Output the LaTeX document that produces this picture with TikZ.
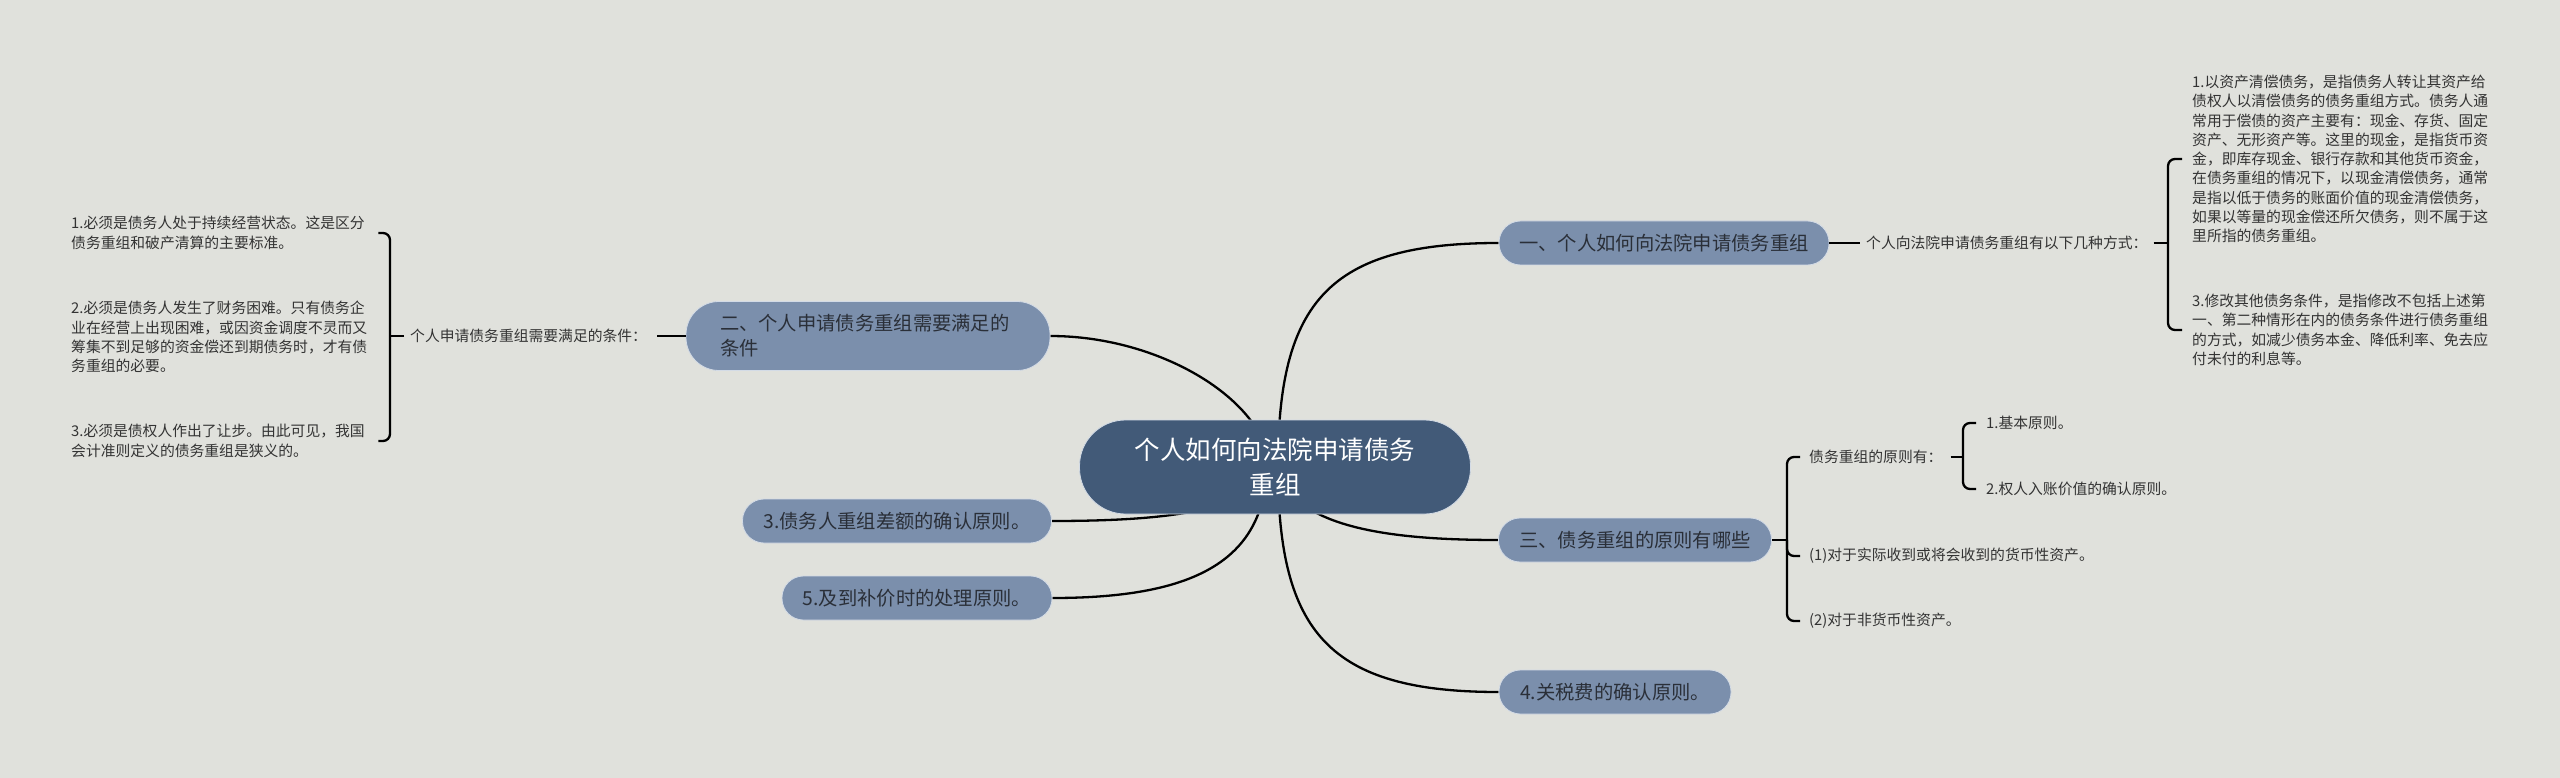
\documentclass[tikz,border=0pt]{standalone}
\usepackage{fontspec}
\setmainfont{Noto Sans CJK SC}
\usepackage{tikz}
\usetikzlibrary{positioning,calc}

\definecolor{paper}{HTML}{E0E1DC}
\definecolor{rootfill}{HTML}{425A78}
\definecolor{topicfill}{HTML}{7B8FAC}
\definecolor{topicedge}{HTML}{D3DBE6}
\definecolor{topictext}{HTML}{2A2F38}
\definecolor{leaftext}{HTML}{333333}

\newcommand{\rootfnt}{\fontsize{25.5pt}{35pt}\selectfont}
\newcommand{\topicfnt}{\fontsize{19.3pt}{25pt}\selectfont}
\newcommand{\leaffnt}{\fontsize{14.8pt}{19.3pt}\selectfont}

\pgfdeclarelayer{back}
\pgfsetlayers{back,main}

\begin{document}
\begin{tikzpicture}[
  x=1pt, y=-1pt,
  rootbox/.style = {fill=rootfill, draw=topicedge, line width=0.8pt,
                    rounded corners=46pt, minimum width=391pt, minimum height=94pt,
                    text=white, font=\rootfnt, align=center, inner sep=0pt},
  topic/.style   = {fill=topicfill, draw=topicedge, line width=0.8pt,
                    rounded corners=21.5pt, minimum height=44pt,
                    text=topictext, font=\topicfnt, inner sep=0pt},
  leaf/.style    = {text=leaftext, font=\leaffnt, align=left, inner sep=0pt},
  block/.style   = {leaf, text width=300pt},
  conn/.style    = {line width=2.3pt},
  brk/.style     = {line width=2.3pt, rounded corners=7pt},
]
\useasboundingbox (0,0) rectangle (2560,778);

%% --- root ---
\node[rootbox] (root) at (1275,467) {个人如何向法院申请债务\\重组};

%% --- main topics ---
\node[topic, minimum width=330pt] (apply) at (1664,243) {一、个人如何向法院申请债务重组};
\node[topic, minimum width=364pt, minimum height=69pt, rounded corners=33pt,
      text width=296pt, align=left, inner xsep=34pt] (cond) at (868,336)
  {二、个人申请债务重组需要满足的\\条件};
\node[topic, minimum width=309pt] (diff) at (897,521) {3.债务人重组差额的确认原则。};
\node[topic, minimum width=273pt] (princ) at (1635,540) {三、债务重组的原则有哪些};
\node[topic, minimum width=232pt] (tax) at (1615,692) {4.关税费的确认原则。};
\node[topic, minimum width=270pt] (supp) at (917,598) {5.及到补价时的处理原则。};

%% --- ways of applying (right, top) ---
\node[leaf, anchor=west] (waysq) at (1866,243) {个人向法院申请债务重组有以下几种方式：};
\coordinate (waysbr) at (2168,243);
\node[block, anchor=west] (way1) at (2192,159)
  {1.以资产清偿债务，是指债务人转让其资产给\\
   债权人以清偿债务的债务重组方式。债务人通\\
   常用于偿债的资产主要有：现金、存货、固定\\
   资产、无形资产等。这里的现金，是指货币资\\
   金，即库存现金、银行存款和其他货币资金，\\
   在债务重组的情况下，以现金清偿债务，通常\\
   是指以低于债务的账面价值的现金清偿债务，\\
   如果以等量的现金偿还所欠债务，则不属于这\\
   里所指的债务重组。};
\node[block, anchor=west] (way3) at (2192,330)
  {3.修改其他债务条件，是指修改不包括上述第\\
   一、第二种情形在内的债务条件进行债务重组\\
   的方式，如减少债务本金、降低利率、免去应\\
   付未付的利息等。};

%% --- conditions (left) ---
\node[leaf, anchor=west] (condq) at (410,336) {个人申请债务重组需要满足的条件：};
\coordinate (condbr) at (390,336);
\node[block, anchor=west] (cond1) at (71,233)
  {1.必须是债务人处于持续经营状态。这是区分\\
   债务重组和破产清算的主要标准。};
\node[block, anchor=west] (cond2) at (71,337)
  {2.必须是债务人发生了财务困难。只有债务企\\
   业在经营上出现困难，或因资金调度不灵而又\\
   筹集不到足够的资金偿还到期债务时，才有债\\
   务重组的必要。};
\node[block, anchor=west] (cond3) at (71,441)
  {3.必须是债权人作出了让步。由此可见，我国\\
   会计准则定义的债务重组是狭义的。};

%% --- principles (right, middle) ---
\coordinate (princbr) at (1787,540);
\node[leaf, anchor=west] (pr1) at (1809,457) {债务重组的原则有：};
\node[leaf, anchor=west] (pr2) at (1809,556) {(1)对于实际收到或将会收到的货币性资产。};
\node[leaf, anchor=west] (pr3) at (1809,621) {(2)对于非货币性资产。};
\coordinate (basebr) at (1963,457);
\node[leaf, anchor=west] (base1) at (1986,423) {1.基本原则。};
\node[leaf, anchor=west] (base2) at (1986,489) {2.权人入账价值的确认原则。};

%% --- stubs and brackets ---
\draw[conn] (apply.east) -- ([xshift=-6pt]waysq.west);
\draw[conn] ([xshift=6pt]waysq.east) -- (waysbr);
\draw[brk] ([xshift=-10pt]way1.west) -| (waysbr) |- ([xshift=-10pt]way3.west);

\draw[conn] (cond.west) -- ([xshift=10pt]condq.east);
\draw[conn] ([xshift=-6pt]condq.west) -- (condbr);
\draw[brk] ([xshift=7pt]cond1.east) -| (condbr) |- ([xshift=7pt]cond3.east);

\draw[conn] (princ.east) -- (princbr);
\draw[brk] ([xshift=-9pt]pr1.west) -| (princbr) |- ([xshift=-9pt]pr3.west);
\draw[brk] (princbr) |- ([xshift=-9pt]pr2.west);
\draw[conn] ([xshift=8pt]pr1.east) -- (basebr);
\draw[brk] ([xshift=-10pt]base1.west) -| (basebr) |- ([xshift=-10pt]base2.west);

%% --- curves from the root ---
\begin{pgfonlayer}{back}
  \fill[paper] (0,0) rectangle (2560,778);
  \draw[conn] ([xshift=3pt]root.center)  .. controls +(0,-165) and +(-170,0) .. (apply.west);
  \draw[conn] ([xshift=-5pt]root.center) .. controls +(-5,-67) and +(110,0) .. (cond.east);
  \draw[conn] ([xshift=-10pt]root.center) .. controls +(-10,45) and +(110,0) .. (diff.east);
  \draw[conn] ([xshift=-8pt]root.center) .. controls +(-3,95) and +(140,0) .. (supp.east);
  \draw[conn] ([xshift=3pt]root.center)  .. controls +(12,63) and +(-99,0) .. (princ.west);
  \draw[conn] ([xshift=3pt]root.center)  .. controls +(0,165) and +(-170,0) .. (tax.west);
\end{pgfonlayer}
\end{tikzpicture}
\end{document}
